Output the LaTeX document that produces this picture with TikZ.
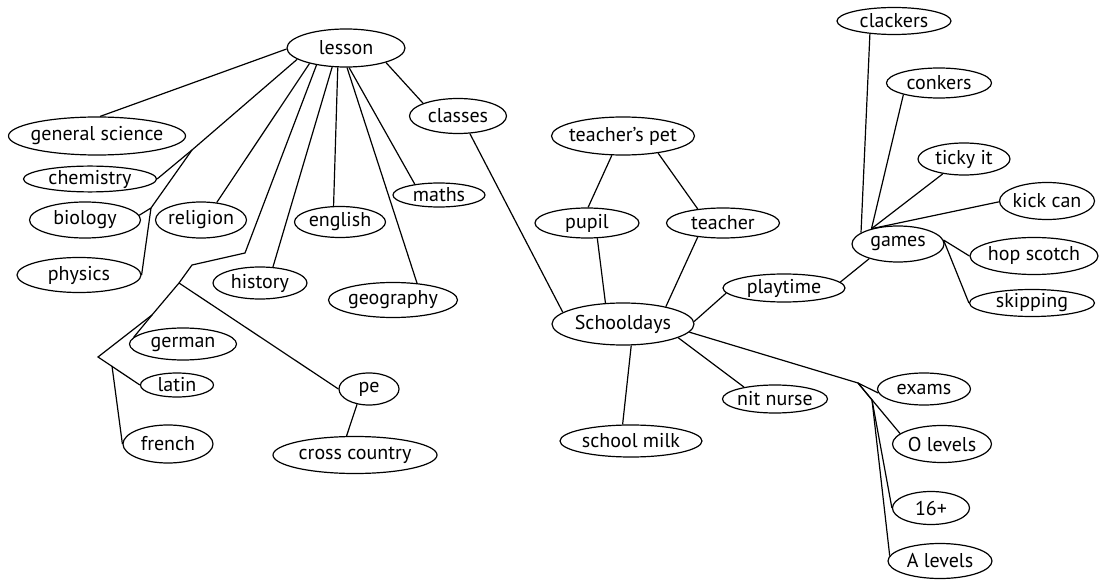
\documentclass[tikz,border=0pt]{standalone}
\usepackage{fontspec}
\setmainfont{PT Sans}
\usetikzlibrary{shapes.geometric}
\newcommand\mmlbl[1]{\makebox[0pt]{#1}}
\tikzset{
  bub/.style={draw, ellipse, line width=1.2pt, inner sep=0pt, font=\fontsize{20}{22}\selectfont},
  con/.style={line width=1.2pt}
}
\begin{document}
\begin{tikzpicture}[x=1pt,y=-1pt]
\useasboundingbox (0,0) rectangle (1101,580);
% left cluster
\node[bub,minimum width=118pt,minimum height=38pt] (lesson) at (346,48) {\mmlbl{lesson}};
\node[bub,minimum width=177pt,minimum height=38pt] (gs) at (97,136) {\mmlbl{general science}};
\node[bub,minimum width=133pt,minimum height=25pt] (chem) at (90,179) {\mmlbl{chemistry}};
\node[bub,minimum width=111pt,minimum height=36pt] (bio) at (85,220) {\mmlbl{biology}};
\node[bub,minimum width=124pt,minimum height=35pt] (phys) at (79,275) {\mmlbl{physics}};
\node[bub,minimum width=91pt,minimum height=36pt] (relig) at (201,220) {\mmlbl{religion}};
\node[bub,minimum width=91pt,minimum height=31pt] (engl) at (340,222) {\mmlbl{english}};
\node[bub,minimum width=92pt,minimum height=24pt] (maths) at (439,195) {\mmlbl{maths}};
\node[bub,minimum width=97pt,minimum height=35pt] (classes) at (458,116) {\mmlbl{classes}};
\node[bub,minimum width=94pt,minimum height=32pt] (hist) at (260,283) {\mmlbl{history}};
\node[bub,minimum width=129pt,minimum height=35pt] (geog) at (393,300) {\mmlbl{geography}};
\node[bub,minimum width=107pt,minimum height=32pt] (german) at (183,344) {\mmlbl{german}};
\node[bub,minimum width=73pt,minimum height=24pt] (latin) at (177,385) {\mmlbl{latin}};
\node[bub,minimum width=90pt,minimum height=38pt] (french) at (168,444) {\mmlbl{french}};
\node[bub,minimum width=60pt,minimum height=32pt] (pe) at (369,389) {\mmlbl{pe}};
\node[bub,minimum width=164pt,minimum height=37pt] (cross) at (355,455) {\mmlbl{cross country}};
% middle
\node[bub,minimum width=143pt,minimum height=38pt] (tpet) at (623,136) {\mmlbl{teacher’s pet}};
\node[bub,minimum width=104pt,minimum height=30pt] (pupil) at (587,223) {\mmlbl{pupil}};
\node[bub,minimum width=113pt,minimum height=30pt] (teacher) at (723,223) {\mmlbl{teacher}};
\node[bub,minimum width=142pt,minimum height=42pt] (school) at (623,324) {\mmlbl{Schooldays}};
\node[bub,minimum width=142pt,minimum height=32pt] (milk) at (631,441) {\mmlbl{school milk}};
\node[bub,minimum width=105pt,minimum height=28pt] (nit) at (775,399) {\mmlbl{nit nurse}};
\node[bub,minimum width=122pt,minimum height=28pt] (play) at (784,288) {\mmlbl{playtime}};
% exams
\node[bub,minimum width=93pt,minimum height=32pt] (exams) at (924,389) {\mmlbl{exams}};
\node[bub,minimum width=99pt,minimum height=37pt] (olev) at (942,444) {\mmlbl{O levels}};
\node[bub,minimum width=77pt,minimum height=33pt] (sixteen) at (931,508) {\mmlbl{16+}};
\node[bub,minimum width=104pt,minimum height=35pt] (alev) at (940,561) {\mmlbl{A levels}};
% games
\node[bub,minimum width=114pt,minimum height=27pt] (clack) at (894,21) {\mmlbl{clackers}};
\node[bub,minimum width=105pt,minimum height=30pt] (conk) at (939,83) {\mmlbl{conkers}};
\node[bub,minimum width=92pt,minimum height=32pt] (ticky) at (964,159) {\mmlbl{ticky it}};
\node[bub,minimum width=95pt,minimum height=37pt] (kick) at (1047,201) {\mmlbl{kick can}};
\node[bub,minimum width=92pt,minimum height=36pt] (games) at (898,244) {\mmlbl{games}};
\node[bub,minimum width=128pt,minimum height=37pt] (hop) at (1034,256) {\mmlbl{hop scotch}};
\node[bub,minimum width=125pt,minimum height=27pt] (skip) at (1032,303) {\mmlbl{skipping}};
% junctions
\coordinate (j1) at (192,150);
\coordinate (j2) at (151,208);
\coordinate (j3) at (245,253);
\coordinate (j4) at (192,265);
\coordinate (j5) at (179,283);
\coordinate (j6) at (152,315);
\coordinate (j7) at (98,357);
\coordinate (j7b) at (112,366);
\coordinate (j8) at (858,383);
\coordinate (j9) at (872,400);
% connectors
\draw[con] (lesson.181) -- (gs.81);
\draw[con] (lesson.193) -- (j1) -- (chem.east);
\draw[con] (j1) -- (j2) -- (bio.5);
\draw[con] (j2) -- (phys.east);
\draw[con] (lesson.203) -- (relig.48);
\draw[con] (lesson.210) -- (j3) -- (j4) -- (j5) -- (j6) -- (german.172);
\draw[con] (j6) -- (j7) -- (latin.west);
\draw[con] (j7b) -- (french.west);
\draw[con] (j5) -- (pe.west);
\draw[con] (pe.232) -- (cross.114);
\draw[con] (lesson.234) -- (hist.51);
\draw[con] (lesson.247) -- (engl.112);
\draw[con] (lesson.273) -- (geog.35);
\draw[con] (lesson.279) -- (maths.156);
\draw[con] (lesson.340) -- (classes.160);
\draw[con] (classes.304) -- (school.169);
\draw[con] (tpet.240) -- (pupil.86);
\draw[con] (tpet.334) -- (teacher.151);
\draw[con] (pupil.304) -- (school.130);
\draw[con] (teacher.209) -- (school.22);
\draw[con] (school.291) -- (milk.117);
\draw[con] (school.346) -- (nit.159);
\draw[con] (school.2) -- (play.185);
\draw[con] (school.353) -- (j8) -- (exams.185);
\draw[con] (j8) -- (olev.166);
\draw[con] (j8) -- (j9) -- (sixteen.west);
\draw[con] (j9) -- (alev.174);
\draw[con] (play.6) -- (games.207);
\draw[con] (games.163) -- (clack.208);
\draw[con] (games.150) -- (conk.198);
\draw[con] (games.150) -- (ticky.215);
\draw[con] (games.150) -- (kick.181);
\draw[con] (games.5) -- (hop.west);
\draw[con] (games.5) -- (skip.west);
\end{tikzpicture}
\end{document}
